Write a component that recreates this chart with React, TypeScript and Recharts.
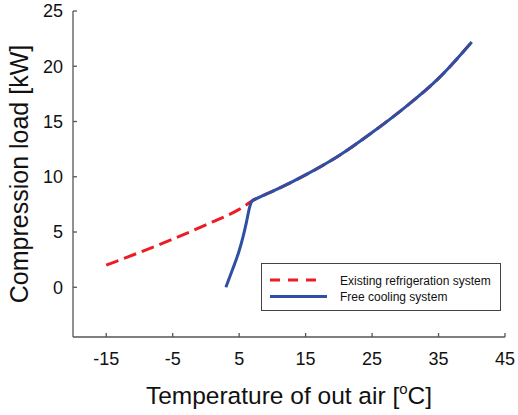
import React from "react";
import { LineChart, Line, XAxis, YAxis, Legend } from "recharts";

const redTemps = [-15, -10, -5, 0, 5, 7.5, 10, 15, 20, 25, 30, 35, 40];
const redLoads = [2.0, 3.15, 4.35, 5.65, 7.05, 8.0, 8.67, 10.17, 11.9, 14.0, 16.3, 18.9, 22.2];

const blueTemps = [3, 4, 5, 5.6, 6.1, 6.6, 7.0, 7.5, 10, 15, 20, 25, 30, 35, 40];
const blueLoads = [0, 1.6, 3.3, 4.6, 5.9, 7.3, 7.85, 8.0, 8.67, 10.17, 11.9, 14.0, 16.3, 18.9, 22.2];

const xTicks = [-15, -5, 5, 15, 25, 35, 45];
const yTicks = [0, 5, 10, 15, 20, 25];

const seriesNames = ["Existing refrigeration system", "Free cooling system"];
const RED = "#ED1C24";
const BLUE = "#2E4FA3";
const FONT = "'Liberation Sans', Arial, sans-serif";

const redData = redTemps.map((t, i) => ({ temp: t, load: redLoads[i] }));
const blueData = blueTemps.map((t, i) => ({ temp: t, load: blueLoads[i] }));

const xTitle = (props: any) => {
  const vb = props.viewBox || {};
  return (
    <text
      x={vb.x + vb.width / 2}
      y={vb.y + 67}
      textAnchor="middle"
      fontFamily={FONT}
      fontSize={24.5}
      fill="#111"
    >
      Temperature of out air [
      <tspan dy={-10} fontSize={15}>o</tspan>
      <tspan dy={10}>C]</tspan>
    </text>
  );
};

const yTitle = (props: any) => {
  const vb = props.viewBox || {};
  const cx = vb.x + 28;
  const cy = vb.y + vb.height / 2;
  return (
    <text
      x={cx}
      y={cy}
      transform={`rotate(-90, ${cx}, ${cy})`}
      textAnchor="middle"
      fontFamily={FONT}
      fontSize={25}
      fill="#111"
    >
      Compression load [kW]
    </text>
  );
};

const legendContent = () => (
  <div
    style={{
      width: 240,
      height: 48,
      border: "1px solid #444",
      background: "#fff",
      boxSizing: "border-box",
      fontFamily: FONT,
    }}
  >
    <svg width={238} height={46}>
      <line x1={8} y1={16} x2={59} y2={16} stroke={RED} strokeWidth={3} strokeDasharray="10 8" />
      <line x1={8} y1={32.5} x2={65} y2={32.5} stroke={BLUE} strokeWidth={3} />
      <text x={78} y={20.5} fontSize={12} fill="#111" fontFamily={FONT}>{seriesNames[0]}</text>
      <text x={78} y={37} fontSize={12} fill="#111" fontFamily={FONT}>{seriesNames[1]}</text>
    </svg>
  </div>
);

export default function App() {
  return (
    <div style={{ position: "absolute", left: 0, top: 0, background: "#fff" }}>
      <LineChart
        width={518}
        height={415}
        margin={{ top: 11, right: 13, left: 0, bottom: 0 }}
      >
        <XAxis
          dataKey="temp"
          type="number"
          domain={[-20, 45]}
          ticks={xTicks}
          allowDataOverflow
          height={78}
          tickSize={-4}
          tickMargin={19}
          axisLine={{ stroke: "#555", strokeWidth: 1.3 }}
          tickLine={{ stroke: "#555", strokeWidth: 1.3 }}
          tick={{ fill: "#111", fontSize: 18, fontFamily: FONT }}
          label={xTitle}
        />
        <XAxis
          xAxisId="top"
          orientation="top"
          type="number"
          domain={[-20, 45]}
          height={0}
          tick={false}
          tickLine={false}
          axisLine={{ stroke: "#888", strokeWidth: 1.3 }}
        />
        <YAxis
          type="number"
          domain={[-4.5, 25]}
          ticks={yTicks}
          allowDataOverflow
          width={73}
          tickSize={-4}
          tickMargin={14}
          axisLine={{ stroke: "#555", strokeWidth: 1.3 }}
          tickLine={{ stroke: "#555", strokeWidth: 1.3 }}
          tick={{ fill: "#111", fontSize: 18, fontFamily: FONT }}
          label={yTitle}
        />
        <YAxis
          yAxisId="right"
          orientation="right"
          type="number"
          domain={[-4.5, 25]}
          width={0}
          tick={false}
          tickLine={false}
          axisLine={{ stroke: "#222", strokeWidth: 1.5 }}
        />
        <Line
          data={redData}
          dataKey="load"
          name={seriesNames[0]}
          type="monotone"
          stroke={RED}
          strokeWidth={3}
          strokeDasharray="13 6"
          dot={false}
          activeDot={false}
          isAnimationActive={false}
        />
        <Line
          data={blueData}
          dataKey="load"
          name={seriesNames[1]}
          type="monotone"
          stroke={BLUE}
          strokeWidth={3}
          dot={false}
          activeDot={false}
          isAnimationActive={false}
        />
        <Legend
          layout="vertical"
          align="center"
          verticalAlign="middle"
          content={legendContent}
          wrapperStyle={{ position: "absolute", left: 261, top: 263, width: 240, height: 48 }}
        />
      </LineChart>
    </div>
  );
}
